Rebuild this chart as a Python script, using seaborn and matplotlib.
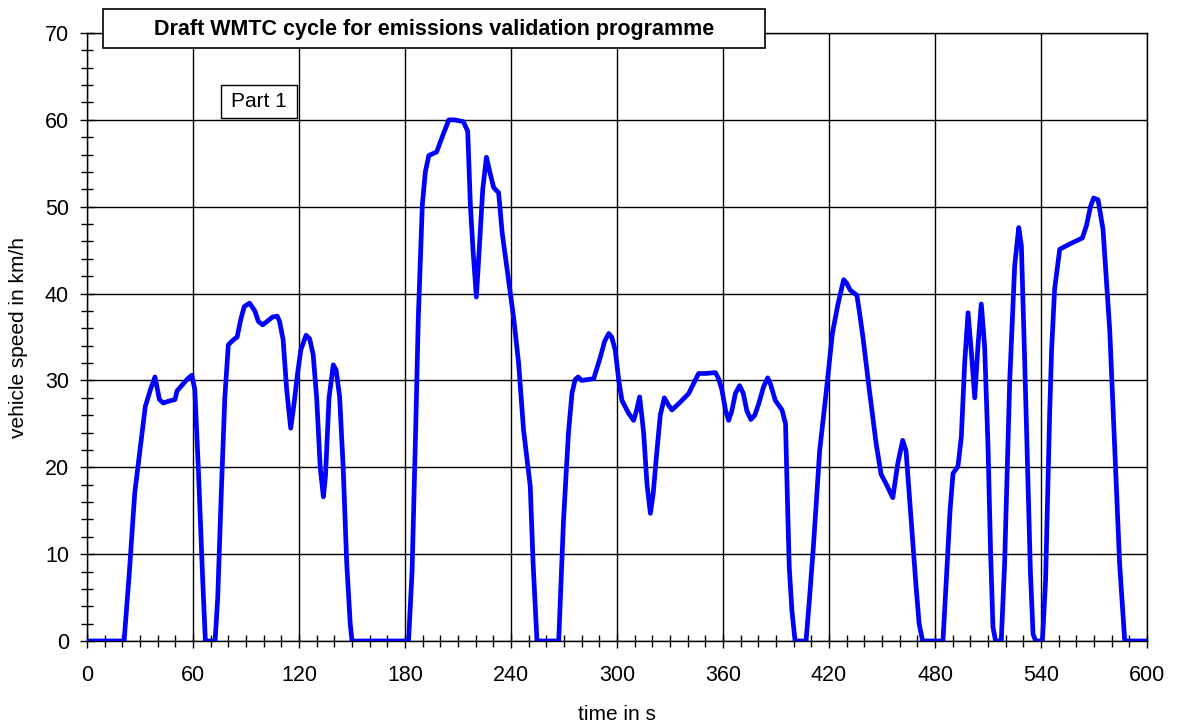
import matplotlib
matplotlib.use("Agg")
import matplotlib.pyplot as plt
from matplotlib.patches import Rectangle
from matplotlib.ticker import MultipleLocator
import pandas as pd
import seaborn as sns

# speed trace (time in s, speed in km/h)
time_s = [
    0, 21, 24, 27, 30, 33, 36, 38.5, 41, 43.2, 46, 49.8, 51, 54, 57, 59.3, 61, 63, 65.5, 67,
    72.5, 74, 76, 78, 80, 83, 85, 87, 89, 92, 95, 97, 99.4, 102, 105, 107.7, 109, 111, 113, 115.3,
    117, 119, 121, 124, 126, 128, 130, 132, 133.8, 135, 137, 139.4, 141, 143, 145, 147, 149, 150,
    182, 184, 186, 187.5, 189.8, 191.5, 193.5, 197.9, 201, 204.8, 208, 213, 215.5, 217, 218.5, 220.4,
    222, 224, 226.1, 228, 230.2, 233, 235, 237.7, 241.5, 244.3, 247.1, 250.9, 252.5, 254.7,
    267, 269.7, 272.5, 274.5, 276.3, 278, 280, 286.8, 290.6, 293, 295.3, 297, 299, 301, 302.8,
    306.6, 309.4, 311, 312.8, 314, 315.1, 317, 318.9, 320.5, 322.6, 324.5, 326.8, 329, 331.1,
    335.8, 340.6, 343, 346.2, 350, 355.7, 357.5, 359.4, 361.5, 363.2, 365, 367, 369.4, 371.5,
    373.5, 375.8, 378, 380.2, 383, 385.3, 387, 389.6, 393.4, 395.4, 396.5, 397.5, 399, 400.8,
    407, 409, 411, 413, 414.7, 418.5, 421.9, 425.1, 428.3, 430, 432, 435.8, 437.5, 439.2, 442.9,
    446.7, 449.5, 452.3, 456.1, 458.9, 461.7, 463.6, 466.4, 469.2, 471, 473,
    484.5, 486.4, 488.5, 490.2, 493, 494.9, 496.8, 498.7, 500.6, 502.5, 504.3, 506.2, 508.1, 510,
    511.5, 512.8, 514.3, 517.5, 519.4, 520.8, 522.3, 525.1, 527.4, 528.9, 530.8, 532.6, 534,
    535.5, 537, 540.8, 542.6, 544.9, 546, 547.7, 550.6, 556.2, 563.4, 565.7, 568, 569.8, 572.3,
    575.1, 578.9, 581.7, 584.5, 587.4, 600,
]
speed_kmh = [
    0, 0, 8, 17, 22, 27, 29, 30.4, 27.8, 27.4, 27.6, 27.8, 28.8, 29.5, 30.2, 30.6, 29, 20, 7, 0,
    0, 5, 17, 28, 34.1, 34.7, 35, 37, 38.5, 38.9, 38, 36.8, 36.4, 36.8, 37.3, 37.4, 36.8, 34.7, 29, 24.5,
    27, 30.5, 33.5, 35.2, 34.8, 33, 28, 20, 16.6, 19, 28, 31.8, 31.2, 28.1, 20, 9, 2, 0,
    0, 8, 24, 37, 50.2, 54, 55.9, 56.3, 58, 60, 60, 59.8, 58.7, 50.2, 45, 39.6,
    45, 52, 55.7, 54, 52.2, 51.6, 47, 42.9, 37.2, 32, 24.3, 17.8, 9, 0,
    0, 13.8, 23.9, 28.5, 30.1, 30.4, 30, 30.2, 32.7, 34.5, 35.4, 35, 33.5, 30, 27.7,
    26.2, 25.4, 26.5, 28.1, 26, 23.9, 18, 14.7, 17, 21.9, 26, 28, 27.2, 26.6,
    27.5, 28.5, 29.5, 30.8, 30.8, 30.9, 30.2, 28.9, 26.5, 25.4, 26.5, 28.5, 29.4, 28.5,
    26.5, 25.5, 26, 27.3, 29.3, 30.3, 29.5, 27.7, 26.6, 25, 16, 8.5, 3.5, 0,
    0, 5, 10.4, 16.5, 21.9, 28.8, 35.4, 38.8, 41.6, 41.2, 40.4, 39.8, 37.5, 35, 28.8,
    22.7, 19.2, 18.1, 16.5, 20.4, 23.1, 21.9, 14.2, 6.5, 2, 0,
    0, 7, 15, 19.3, 20.1, 23.5, 32, 37.8, 33.2, 28, 33.9, 38.8, 33.9, 22.4,
    10, 1.6, 0, 0, 8.9, 19, 30, 43.2, 47.6, 45.5, 32, 18.5, 8,
    0.8, 0, 0, 7, 26.2, 33.5, 40.5, 45.1, 45.7, 46.4, 47.8, 50, 51, 50.8,
    47.4, 35.8, 22.4, 8.9, 0, 0,
]

title_text = "Draft WMTC cycle for emissions validation programme"
part_text = "Part 1"
x_label = "time in s"
y_label = "vehicle speed in km/h"
x_major = list(range(0, 601, 60))
y_major = list(range(0, 71, 10))

sns.set_theme(style="white")
plt.rcParams["font.family"] = ["Liberation Sans", "DejaVu Sans"]
plt.rcParams["text.color"] = "black"
plt.rcParams["axes.labelcolor"] = "black"
plt.rcParams["xtick.color"] = "black"
plt.rcParams["ytick.color"] = "black"

df = pd.DataFrame({"t": time_s, "v": speed_kmh})

fig = plt.figure(figsize=(11.77, 7.22), dpi=100)
ax = fig.add_axes([87 / 1177, 1 - 641 / 722, 1060 / 1177, 608 / 722])

sns.lineplot(data=df, x="t", y="v", color="#0000FF", linewidth=3.4, ax=ax,
             sort=False, estimator=None, zorder=3,
             solid_joinstyle="round", solid_capstyle="round")

ax.set_xlim(0, 600)
ax.set_ylim(0, 70)
ax.set_xticks(x_major)
ax.set_yticks(y_major)
ax.xaxis.set_minor_locator(MultipleLocator(10))
ax.yaxis.set_minor_locator(MultipleLocator(2))
ax.grid(True, which="major", color="black", linewidth=1.0)
ax.grid(False, which="minor")
for s in ax.spines.values():
    s.set_color("black")
    s.set_linewidth(1.0)
ax.tick_params(which="major", direction="inout", length=10, width=1.0, color="black",
               labelsize=15.5, labelcolor="black", bottom=True, left=True)
ax.tick_params(axis="x", which="major", pad=12)
ax.tick_params(axis="y", which="major", pad=8)
ax.tick_params(which="minor", direction="inout", length=8, width=1.0, color="black",
               bottom=True, left=True)
ax.set_xlabel(x_label, fontsize=15, labelpad=14, color="black")
ax.set_ylabel(y_label, fontsize=15, labelpad=12, color="black")

# title box across the top edge of the plot area
fig.add_artist(Rectangle((103 / 1177, 1 - 47.5 / 722), 662 / 1177, 38 / 722,
                         transform=fig.transFigure, facecolor="white",
                         edgecolor="black", linewidth=1.2, zorder=10))
fig.text(434 / 1177, 1 - 29 / 722, title_text, ha="center", va="center",
         fontsize=15.5, fontweight="bold", color="black", zorder=11)

# "Part 1" label box
fig.add_artist(Rectangle((221 / 1177, 1 - 118 / 722), 76 / 1177, 33 / 722,
                         transform=fig.transFigure, facecolor="white",
                         edgecolor="black", linewidth=1.0, zorder=10))
fig.text(259 / 1177, 1 - 101.5 / 722, part_text, ha="center", va="center",
         fontsize=15, color="black", zorder=11)

plt.savefig("out.png", dpi=100)
